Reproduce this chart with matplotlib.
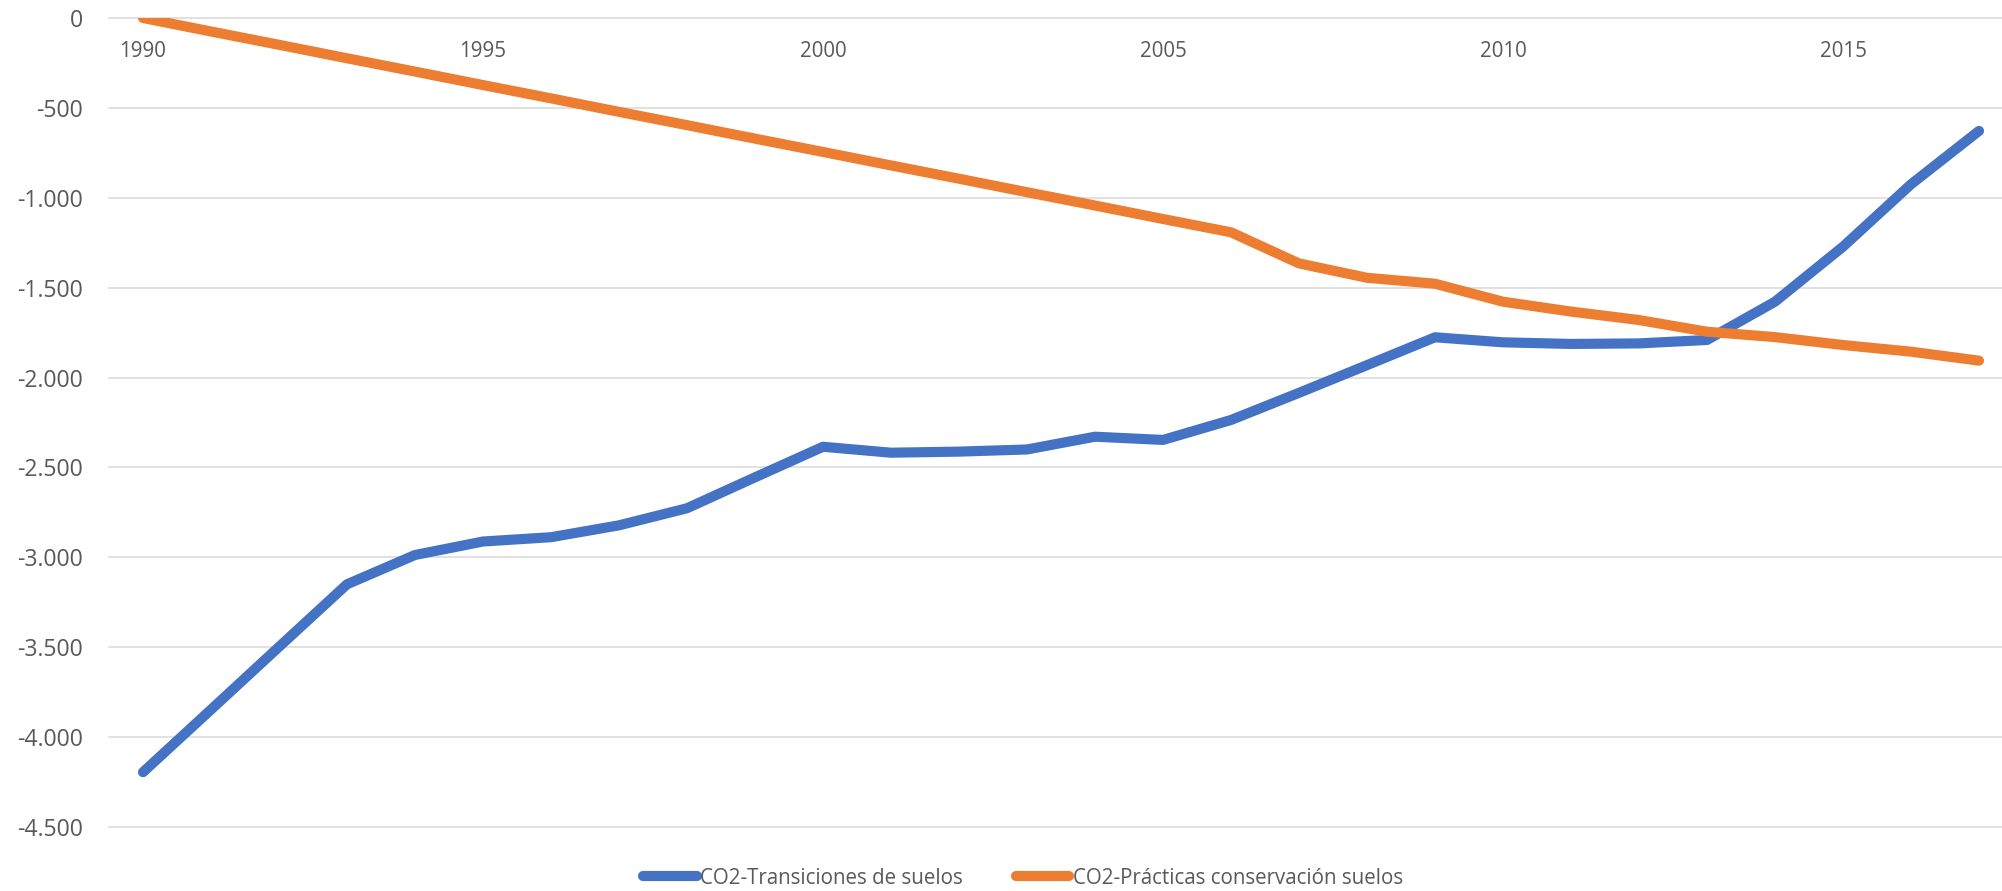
import matplotlib
matplotlib.use("Agg")
import matplotlib.pyplot as plt
from matplotlib.ticker import FuncFormatter

years = list(range(1990, 2018))
transiciones = [-4195, -3847, -3498, -3150, -2987, -2912, -2888, -2822, -2727, -2555,
                -2385, -2418, -2412, -2400, -2329, -2347, -2236, -2085, -1931, -1776,
                -1804, -1813, -1810, -1791, -1578, -1272, -925, -628]
conservacion = [0, -75, -149, -224, -298, -373, -447, -522, -596, -671,
                -745, -820, -894, -969, -1043, -1118, -1192, -1365, -1445, -1478,
                -1578, -1633, -1680, -1745, -1775, -1819, -1856, -1906]
labels = ["CO2-Transiciones de suelos", "CO2-Prácticas conservación suelos"]
xtick_years = [1990, 1995, 2000, 2005, 2010, 2015]
yticks = list(range(0, -5000, -500))

plt.rcParams['font.family'] = ['Open Sans', 'DejaVu Sans']

W, H = 2002, 891
fig = plt.figure(figsize=(W / 100, H / 100), dpi=100)
left_px, right_px = 109, 109 + 28 * 68
top_px, bot_px = 18, 827
ax = fig.add_axes([left_px / W, 1 - bot_px / H, (right_px - left_px) / W, (bot_px - top_px) / H])

blue = '#4472C4'
orange = '#ED7D31'
lw = 7.3
ax.plot(years, transiciones, color=blue, lw=lw, solid_capstyle='round', solid_joinstyle='round',
        label=labels[0], zorder=3)
ax.plot(years, conservacion, color=orange, lw=lw, solid_capstyle='round', solid_joinstyle='round',
        label=labels[1], zorder=4)

ax.set_xlim(1989.5, 2017.5)
ax.set_ylim(-4500, 0)
ax.set_yticks(yticks)
ax.yaxis.set_major_formatter(FuncFormatter(lambda v, p: f"{int(v):,}".replace(",", ".")))
ax.grid(axis='y', color='#D9D9D9', lw=1.1, zorder=0)
for gl in ax.get_ygridlines():
    gl.set_clip_on(False)
ax.set_axisbelow(True)
for s in ax.spines.values():
    s.set_visible(False)
ax.tick_params(axis='y', length=0, pad=18.5, labelsize=16.6, labelcolor='#595959')

ax.set_xticks(xtick_years)
ax.set_xticklabels([str(y) for y in xtick_years])
ax.tick_params(axis='x', length=0, top=False, bottom=False, labeltop=True, labelbottom=False,
               pad=-32, labelsize=14.8, labelcolor='#595959')

leg = fig.legend(loc='center', bbox_to_anchor=(1023 / W, 1 - 878 / H), ncol=2, frameon=False,
                 fontsize=14.8, handlelength=2.6, handletextpad=0.15, columnspacing=2.6,
                 borderaxespad=0, labelcolor='#595959')
for line in leg.get_lines():
    line.set_linewidth(lw)
    line.set_solid_capstyle('round')

fig.savefig('out.png', dpi=100, facecolor='white')
